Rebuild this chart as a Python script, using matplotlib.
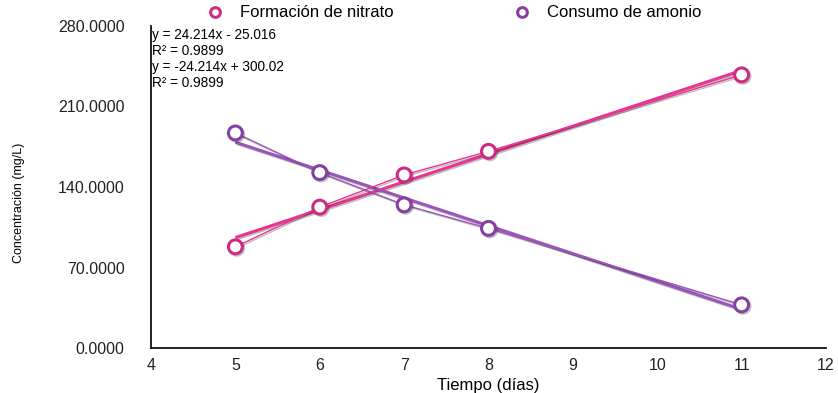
import numpy as np
import matplotlib.pyplot as plt
import matplotlib.patheffects as pe

plt.rcParams['font.family'] = ['Liberation Sans', 'DejaVu Sans']

dias = [5, 6, 7, 8, 11]
nitrato = [88.0, 122.5, 150.5, 171.0, 237.5]
amonio = [187.0, 152.5, 124.5, 104.0, 37.5]

# coeficientes de las lineas de tendencia
tend_nitrato = (24.214, -25.016)
tend_amonio = (-24.214, 300.02)
r2 = 0.9899

c_nit = '#e8358f'
c_nit_dark = '#d02a82'
c_amo = '#9b55b8'
c_amo_dark = '#86409f'

fig = plt.figure(figsize=(8.38, 3.93), dpi=100)
ax = fig.add_axes([151 / 838, 45 / 393, 675 / 838, 322 / 393])

sombra = [pe.SimpleLineShadow(offset=(1, -1), alpha=0.25), pe.Normal()]

xt = np.array([5, 11])
for (m, b), col in [(tend_nitrato, c_nit), (tend_amonio, c_amo)]:
    ax.plot(xt, m * xt + b, color=col, lw=2.2, solid_capstyle='butt',
            path_effects=sombra, zorder=2)

ax.plot(dias, nitrato, color=c_nit, lw=1.0, marker='o', ms=10, mfc='white',
        mec=c_nit_dark, mew=2.2, path_effects=sombra, zorder=3,
        label='Formación de nitrato')
ax.plot(dias, amonio, color=c_amo, lw=1.0, marker='o', ms=10, mfc='white',
        mec=c_amo_dark, mew=2.2, path_effects=sombra, zorder=3,
        label='Consumo de amonio')

ax.set_xlim(4, 12)
ax.set_ylim(0, 280)
ax.set_xticks(range(4, 13))
ax.set_yticks([0, 70, 140, 210, 280])
ax.set_yticklabels(['%.4f' % v for v in [0, 70, 140, 210, 280]])
ax.tick_params(length=0, labelsize=11.5, colors='#222222')
ax.tick_params(axis='y', pad=19)
ax.tick_params(axis='x', pad=7)
for s in ['top', 'right']:
    ax.spines[s].set_visible(False)
for s in ['left', 'bottom']:
    ax.spines[s].set_linewidth(1.3)
    ax.spines[s].set_color('#111111')

ax.set_xlabel('Tiempo (días)', fontsize=12, labelpad=4)
fig.text(19 / 838, 190 / 393, 'Concentración (mg/L)', rotation=90,
         ha='center', va='center', fontsize=9)

eq = ['y = %.3fx - %.3f' % (tend_nitrato[0], -tend_nitrato[1]),
      'R² = %.4f' % r2,
      'y = %.3fx + %.2f' % tend_amonio,
      'R² = %.4f' % r2]
for i, t in enumerate(eq):
    ax.text(4.01, 278 - i * 13.9, t, fontsize=9.8, va='top', ha='left')

leg = fig.legend(handles=ax.get_lines()[2:], loc='center',
                 bbox_to_anchor=(0.541, 0.967), ncol=2, frameon=False,
                 fontsize=12, columnspacing=7.1, handlelength=1.2,
                 handletextpad=0.9)
for h in leg.legend_handles:
    h.set_linestyle('none')
    h.set_markersize(7)
    h.set_path_effects([])

fig.savefig('out.png', dpi=100)
